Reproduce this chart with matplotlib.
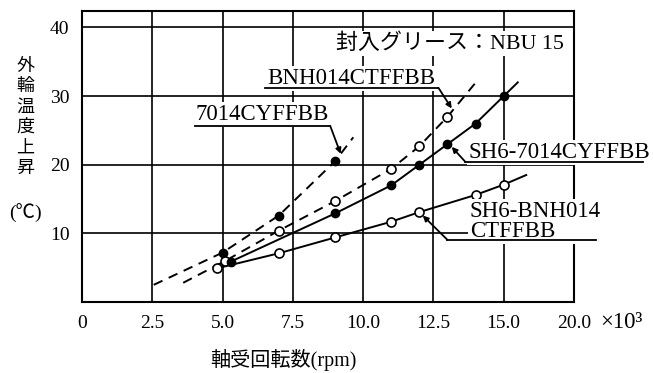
import matplotlib
matplotlib.use("Agg")
import matplotlib.pyplot as plt

# ── Data ─────────────────────────────────────────────────────────────────────
# x: bearing speed (x10^3 rpm), y: outer ring temperature rise (deg C)

# 7014CYFFBB  (dashed, filled markers)
m7014_x = [5.0, 7.0, 9.0]
m7014_y = [7.2, 12.6, 20.5]
c7014_x = [2.55, 5.0, 7.0, 9.0, 9.65]
c7014_y = [2.5, 7.2, 12.6, 20.5, 24.0]

# BNH014CTFFBB  (dashed, open markers)
mbnh_x = [5.1, 7.0, 9.0, 11.0, 12.0, 13.0]
mbnh_y = [6.0, 10.4, 14.7, 19.4, 22.7, 27.0]
cbnh_x = [3.6, 5.1, 7.0, 9.0, 11.0, 12.0, 13.0, 14.05]
cbnh_y = [2.8, 6.0, 10.4, 14.7, 19.4, 22.7, 27.0, 32.2]

# SH6-7014CYFFBB  (solid, filled markers)
msh7014_x = [5.3, 9.0, 11.0, 12.0, 13.0, 14.0, 15.0]
msh7014_y = [5.9, 12.9, 17.0, 20.0, 23.0, 26.0, 30.0]
csh7014_x = [4.9, 5.3, 9.0, 11.0, 12.0, 13.0, 14.0, 15.0, 15.5]
csh7014_y = [5.1, 5.9, 12.9, 17.0, 20.0, 23.0, 26.0, 30.0, 32.0]

# SH6-BNH014CTFFBB  (solid, open markers)
mshbnh_x = [4.8, 7.0, 9.0, 11.0, 12.0, 14.0, 15.0]
mshbnh_y = [4.9, 7.1, 9.4, 11.7, 13.1, 15.6, 17.1]
cshbnh_x = [4.8, 7.0, 9.0, 11.0, 12.0, 14.0, 15.0, 15.8]
cshbnh_y = [4.9, 7.1, 9.4, 11.7, 13.1, 15.6, 17.1, 18.5]

x_ticks = [0, 2.5, 5.0, 7.5, 10.0, 12.5, 15.0, 17.5]
x_tick_labels = ["0", "2.5", "5.0", "7.5", "10.0", "12.5", "15.0", "20.0"]
y_ticks = [10, 20, 30, 40]

SERIF = ["Liberation Serif", "Noto Sans CJK JP"]
CJK = ["Noto Sans CJK JP", "DejaVu Sans"]

# ── Figure ───────────────────────────────────────────────────────────────────
fig = plt.figure(figsize=(6.53, 3.73), dpi=100)
ax = fig.add_axes([82 / 653, 1 - 302 / 373, 492 / 653, 291 / 373])
ax.set_xlim(0, 17.5)
ax.set_ylim(0, 42.4)
ax.set_axisbelow(True)

ax.set_xticks(x_ticks)
ax.set_xticklabels(x_tick_labels, family=SERIF, fontsize=14)
ax.set_yticks(y_ticks)
ax.set_yticklabels([str(v) for v in y_ticks], family=SERIF, fontsize=14)
ax.tick_params(length=0, pad=9)
ax.grid(True, color="black", linewidth=1.2)
for sp in ax.spines.values():
    sp.set_linewidth(1.5)
    sp.set_color("black")

dash = (0, (5, 3.5))
ax.plot(c7014_x, c7014_y, color="black", lw=1.4, linestyle=dash, zorder=3)
ax.plot(cbnh_x, cbnh_y, color="black", lw=1.4, linestyle=dash, zorder=3)
ax.plot(csh7014_x, csh7014_y, color="black", lw=1.4, zorder=3)
ax.plot(cshbnh_x, cshbnh_y, color="black", lw=1.4, zorder=3)

ax.plot(m7014_x, m7014_y, "o", ms=6, mfc="black", mec="black", zorder=4)
ax.plot(mbnh_x, mbnh_y, "o", ms=6.5, mfc="white", mec="black", mew=1.2, zorder=4)
ax.plot(msh7014_x, msh7014_y, "o", ms=6, mfc="black", mec="black", zorder=4)
ax.plot(mshbnh_x, mshbnh_y, "o", ms=6.5, mfc="white", mec="black", mew=1.2, zorder=4)

# ── Labels with leaders ──────────────────────────────────────────────────────
box = dict(facecolor="white", edgecolor="none", pad=1.5)


def leader(x0, x1, y, tip):
    ax.plot([x0, x1], [y, y], color="black", lw=1.3, clip_on=False, zorder=5)
    start = (x0, y) if tip[0] < (x0 + x1) / 2 else (x1, y)
    ax.annotate("", xy=tip, xytext=start, annotation_clip=False, zorder=5,
                arrowprops=dict(arrowstyle="-|>", color="black", lw=1.3,
                                mutation_scale=8, shrinkA=0, shrinkB=0))


ax.text(9.05, 36.9, "封入グリース：NBU 15", family=SERIF, fontsize=15.8,
        va="baseline", ha="left", bbox=box, zorder=4)

ax.text(6.6, 31.7, "BNH014CTFFBB", family=SERIF, fontsize=16.5,
        va="baseline", ha="left", bbox=box, zorder=4)
leader(6.52, 12.68, 31.2, (13.15, 28.2))

ax.text(4.05, 26.5, "7014CYFFBB", family=SERIF, fontsize=16.5,
        va="baseline", ha="left", bbox=box, zorder=4)
leader(4.02, 8.83, 25.65, (9.2, 21.6))

ax.text(13.75, 21.0, "SH6-7014CYFFBB", family=SERIF, fontsize=16.5,
        va="baseline", ha="left", bbox=box, zorder=4, clip_on=False)
leader(13.64, 19.94, 20.4, (13.15, 22.6))

ax.text(13.8, 9.5, "SH6-BNH014\nCTFFBB", family=SERIF, fontsize=16.5,
        va="baseline", ha="left", linespacing=0.92, bbox=box, zorder=4,
        clip_on=False)
leader(13.0, 18.27, 9.05, (12.12, 12.6))

# ── Axis titles ──────────────────────────────────────────────────────────────
for i, ch in enumerate("外輪温度上昇"):
    fig.text(25 / 653, 1 - (66 + i * 20.3) / 373, ch, family=CJK,
             fontsize=13, ha="center", va="center")
fig.text(25 / 653, 1 - 213 / 373, "(℃)", family=SERIF, fontsize=14,
         ha="center", va="center")
fig.text(283 / 653, 1 - 360 / 373, "軸受回転数(rpm)", family=SERIF,
         fontsize=14.5, ha="center", va="center")
fig.text(600 / 653, 1 - 322 / 373, "×10³", family=SERIF, fontsize=16.5,
         ha="left", va="center")

fig.savefig("out.png", dpi=100, facecolor="white")
